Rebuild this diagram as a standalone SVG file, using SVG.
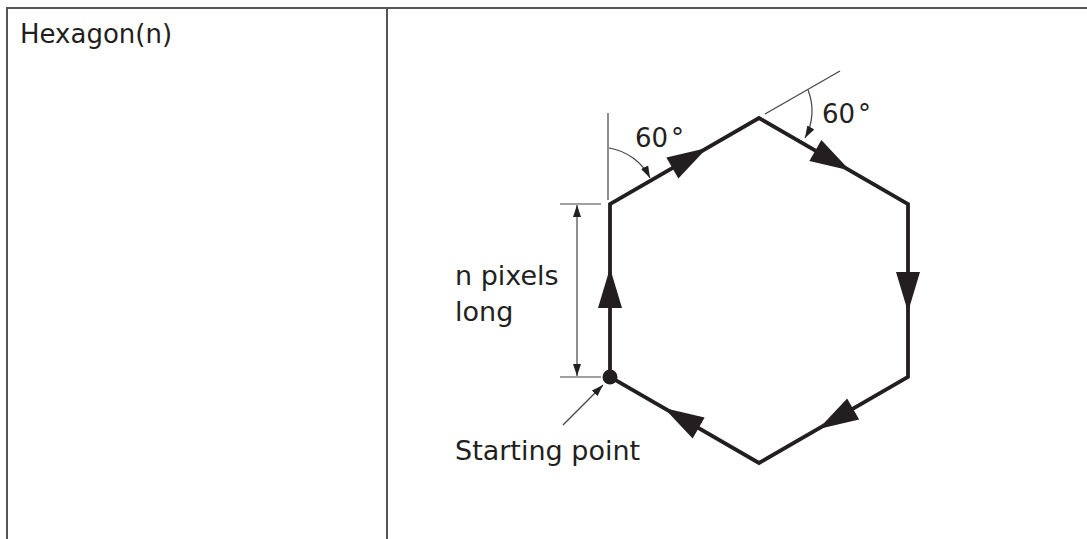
<svg xmlns="http://www.w3.org/2000/svg" width="1087" height="539" viewBox="0 0 1087 539">
<style>
.txt{font-family:"DejaVu Sans","Liberation Sans",sans-serif;font-size:26px;fill:#231f20}
.lbl{font-size:27px}
.tbl{stroke:#555;stroke-width:2;fill:none}
.hex{stroke:#231f20;stroke-width:3.8;fill:none;stroke-linejoin:miter}
.thin{stroke:#444;stroke-width:1.2;fill:none}
.ah{fill:#231f20}
</style>
<defs>
<path id="ah" d="M0,0 L-40,-12 L-40,12 Z"/>
<marker id="sm" viewBox="0 0 12 8" refX="12" refY="4" markerWidth="12" markerHeight="8" markerUnits="userSpaceOnUse" orient="auto-start-reverse">
<path d="M0,0 L12,4 L0,8 Z" fill="#231f20"/>
</marker>
</defs>
<rect width="1087" height="539" fill="#fff"/>
<g id="table">
<path class="tbl" d="M7,539 V8 H1087 M387,8 V539"/>
</g>
<g id="title"><text class="txt" x="20" y="43">Hexagon(n)</text></g>
<g id="hexagon">
<polygon class="hex" points="610,377 610,204 759,118 908,204 908,377 759,463"/>
<circle cx="610" cy="377" r="7.5" fill="#231f20"/>
</g>
<g id="connectors">
<use href="#ah" class="ah" transform="translate(610,268) rotate(-90)"/>
<use href="#ah" class="ah" transform="translate(707,148) rotate(-30)"/>
<use href="#ah" class="ah" transform="translate(850,170.5) rotate(30)"/>
<use href="#ah" class="ah" transform="translate(908,312) rotate(90)"/>
<use href="#ah" class="ah" transform="translate(818.5,429) rotate(150)"/>
<use href="#ah" class="ah" transform="translate(664,408) rotate(210)"/>
<path class="thin" d="M608,113 V200"/>
<path class="thin" d="M609,148 A56,56 0 0 1 650,178" marker-end="url(#sm)"/>
<path class="thin" d="M765,114 L840,71"/>
<path class="thin" d="M808,90 A56,56 0 0 1 805,138" marker-end="url(#sm)"/>
<path class="thin" d="M560,204 H601 M560,377 H601"/>
<path class="thin" d="M577,205 V376" marker-start="url(#sm)" marker-end="url(#sm)"/>
<path class="thin" d="M563,425 L603,385" marker-end="url(#sm)"/>
</g>
<g id="labels">
<text class="txt" x="635" y="147">60<tspan dx="3">°</tspan></text>
<text class="txt" x="822" y="123">60<tspan dx="3">°</tspan></text>
<text class="txt lbl" x="455" y="285">n pixels</text>
<text class="txt lbl" x="455" y="321">long</text>
<text class="txt lbl" x="455" y="460">Starting point</text>
</g>
</svg>
